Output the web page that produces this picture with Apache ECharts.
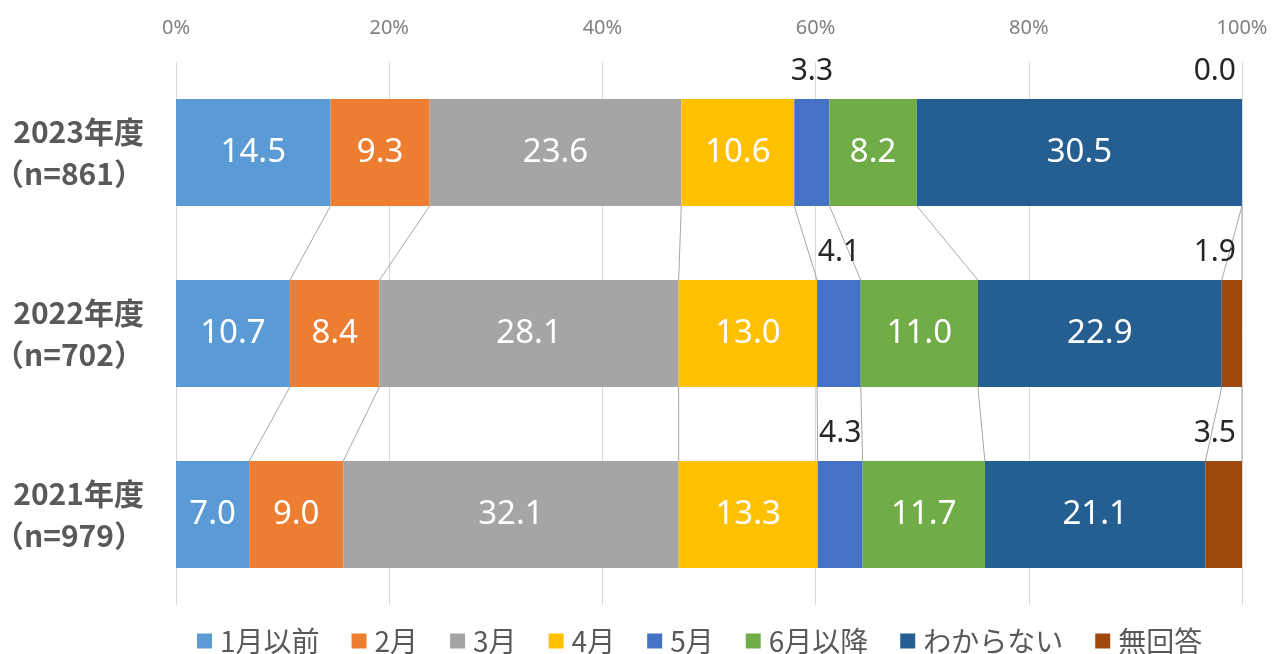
<!DOCTYPE html>
<html><head><meta charset="utf-8">
<script src="https://cdn.jsdelivr.net/npm/echarts@6/dist/echarts.min.js"></script>
<style>html,body{margin:0;padding:0;background:#fff}#c{width:1273px;height:654px}</style>
</head><body><div id="c"></div>
<script>
const categories = ['2023年度\n（n=861）', '2022年度\n（n=702）', '2021年度\n（n=979）'];
const seriesNames = ['1月以前', '2月', '3月', '4月', '5月', '6月以降', 'わからない', '無回答'];
const v1 = [14.5, 10.7, 7.0];
const v2 = [9.3, 8.4, 9.0];
const v3 = [23.6, 28.1, 32.1];
const v4 = [10.6, 13.0, 13.3];
const v5 = [3.3, 4.1, 4.3];
const v6 = [8.2, 11.0, 11.7];
const v7 = [30.5, 22.9, 21.1];
const v8 = [0.0, 1.9, 3.5];
const xTicks = [0, 20, 40, 60, 80, 100];
const colors = ['#5B9BD5', '#ED7D31', '#A5A5A5', '#FFC000', '#4472C4', '#70AD47', '#255E91', '#9E480E'];

const raw = [v1, v2, v3, v4, v5, v6, v7, v8];
const totals = categories.map((c, i) => raw.reduce((s, arr) => s + arr[i], 0));
const norm = raw.map(arr => arr.map((v, i) => v / totals[i] * 100));
const BAR_FRAC = 0.59;

const cum = categories.map((c, i) => {
  let s = 0; const out = [];
  norm.forEach(arr => { s += arr[i]; out.push(s); });
  return out;
});
const connData = [];
for (let p = 0; p < categories.length - 1; p++) {
  for (let k = 0; k < seriesNames.length; k++) {
    connData.push([cum[p][k], cum[p + 1][k], p]);
  }
}

const inLabel = { show: true, position: 'inside', color: '#ffffff', fontSize: 33, fontFamily: 'Noto Sans' };
const series = seriesNames.map((name, si) => {
  let label = Object.assign({}, inLabel);
  if (si === 4) {
    label = { show: true, position: 'top', distance: 13, color: '#262626', fontSize: 30, fontFamily: 'Noto Sans' };
  } else if (si === 7) {
    label = { show: true, position: ['100%', 0], align: 'right', verticalAlign: 'bottom', offset: [-6, -13], color: '#262626', fontSize: 30, fontFamily: 'Noto Sans' };
  }
  label.formatter = p => raw[si][p.dataIndex].toFixed(1);
  return {
    name, type: 'bar', stack: 'total', barWidth: (BAR_FRAC * 100) + '%',
    itemStyle: { color: colors[si] },
    label,
    data: norm[si],
    z: 3
  };
});

series.push({
  type: 'custom',
  name: 'connectors',
  renderItem: (params, api) => {
    const a = api.value(0), b = api.value(1), p = api.value(2);
    const top = api.coord([a, p]);
    const bot = api.coord([b, p + 1]);
    const half = api.size([0, 1])[1] * BAR_FRAC / 2;
    return {
      type: 'line',
      shape: { x1: top[0], y1: top[1] + half, x2: bot[0], y2: bot[1] - half },
      style: { stroke: '#a6a6a6', lineWidth: 1 }
    };
  },
  encode: { x: [0, 1], y: 2 },
  data: connData,
  silent: true,
  z: 2
});

const chart = echarts.init(document.getElementById('c'), null, { renderer: 'canvas' });
chart.setOption({
  animation: false,
  color: colors,
  grid: { left: 176, right: 31, top: 62, bottom: 49, containLabel: false, outerBoundsMode: 'none' },
  xAxis: {
    type: 'value', position: 'top', min: xTicks[0], max: xTicks[xTicks.length - 1], interval: xTicks[1] - xTicks[0],
    axisLabel: { formatter: '{value}%', color: '#808080', fontSize: 20, margin: 24, fontFamily: 'Noto Sans' },
    axisLine: { show: false }, axisTick: { show: false },
    splitLine: { show: true, lineStyle: { color: '#d9d9d9', width: 1 } }
  },
  yAxis: {
    type: 'category', inverse: true, data: categories,
    axisLine: { show: false }, axisTick: { show: false },
    axisLabel: { color: '#595959', fontSize: 30, fontWeight: 'bold', lineHeight: 42, margin: 32, fontFamily: 'Noto Sans CJK JP', align: 'right' }
  },
  legend: {
    data: seriesNames, left: 192, top: 622, icon: 'rect', itemWidth: 15, itemHeight: 15, itemGap: 32,
    textStyle: { color: '#595959', fontSize: 28, fontFamily: 'Noto Sans CJK JP', padding: [0, 0, 0, 3] }
  },
  series
});
</script></body></html>
